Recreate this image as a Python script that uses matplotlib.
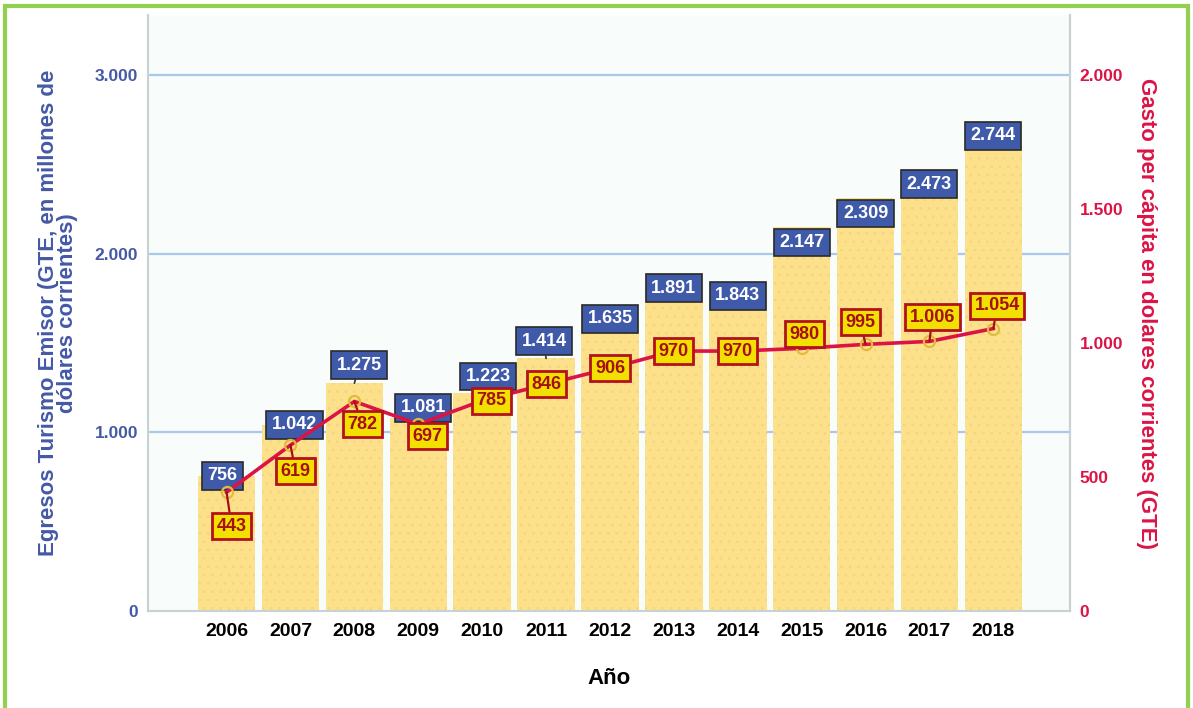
import matplotlib
matplotlib.use("Agg")
import matplotlib.pyplot as plt
from matplotlib.patches import Rectangle
from matplotlib.ticker import FuncFormatter

# ------------------------- Data ------------------------- #
years = [2006, 2007, 2008, 2009, 2010, 2011, 2012, 2013, 2014, 2015, 2016, 2017, 2018]
gte_millones = [756, 1042, 1275, 1081, 1223, 1414, 1635, 1891, 1843, 2147, 2309, 2473, 2744]
gasto_per_capita = [443, 619, 782, 697, 785, 846, 906, 970, 970, 980, 995, 1006, 1054]

# label placement (pixels, relative to the mark) - hand tuned like the original
blue_dx = [-4, 4, 5, 5, 6, -2, 0, 0, 0, 0, 0, 0, 0]
blue_dy = [0, 0, 18, 10, 16, 17, 0, -15, -14, -15, -15, -15, -15]
red_dx = [5, 5, 8, 9, 9, 0, 0, 0, 0, 3, -5, 3, 4]
red_dy = [-34, -26, -23, -12, 0, 0, 0, 0, 0, 14, 22, 24, 23]

plt.rcParams['font.family'] = ['Liberation Sans', 'DejaVu Sans']
plt.rcParams['hatch.linewidth'] = 0.6

blue = '#4459a6'
crimson = '#dc1446'

def miles(v, pos):
    return "{:,.0f}".format(v).replace(",", ".")

fig = plt.figure(figsize=(11.93, 7.08), dpi=100)
ax = fig.add_axes([148/1193, 97/708, 922/1193, 596/708])
ax.set_facecolor('#f8fcfb')

x = list(range(len(years)))
ax.bar(x, gte_millones, width=0.9, color='#fde08a', edgecolor='#f0d488', linewidth=0, hatch='..', zorder=2)

ax.set_xlim(-1.23, 13.2)
ax.set_ylim(0, 3336)
ax.set_yticks([0, 1000, 2000, 3000])
ax.yaxis.set_major_formatter(FuncFormatter(miles))
for gy in [1000, 2000, 3000]:
    ax.axhline(gy, color='#a9c9ec', linewidth=1.6, zorder=1)

ax.set_xticks(x)
ax.set_xticklabels([str(y) for y in years], fontsize=14, fontweight='bold')
ax.tick_params(axis='x', length=0, pad=9)
ax.tick_params(axis='y', length=0, pad=7, labelcolor=blue, labelsize=12.5)
for lbl in ax.get_yticklabels():
    lbl.set_fontweight('bold')

ax.spines['top'].set_visible(False)
for side in ['left', 'bottom', 'right']:
    ax.spines[side].set_color('#c9d2d2')
    ax.spines[side].set_linewidth(1.5)

ax.set_xlabel("Año", fontsize=16, fontweight='bold', labelpad=20)
ax.set_ylabel("Egresos Turismo Emisor (GTE, en millones de\ndólares corrientes)",
              fontsize=16, fontweight='bold', color=blue, labelpad=12, linespacing=0.9)

# right axis for per capita spending
ax2 = ax.twinx()
ax2.set_ylim(0, 3336 * 2 / 3)
ax2.set_yticks([0, 500, 1000, 1500, 2000])
ax2.yaxis.set_major_formatter(FuncFormatter(miles))
ax2.tick_params(axis='y', length=0, pad=7, labelcolor=crimson, labelsize=12.5)
for lbl in ax2.get_yticklabels():
    lbl.set_fontweight('bold')
for side in ['top', 'left', 'bottom']:
    ax2.spines[side].set_visible(False)
ax2.spines['right'].set_color('#c9d2d2')
ax2.spines['right'].set_linewidth(1.5)
ax2.set_ylabel("Gasto per cápita en dolares corrientes (GTE)", fontsize=16, fontweight='bold',
               color=crimson, rotation=270, labelpad=24)

# blue labels for the bars (drawn on ax, below the line)
for i in x:
    arrow = None
    if blue_dy[i] > 0:
        arrow = dict(arrowstyle='-', color='#333333', linewidth=1.2, shrinkA=0, shrinkB=0)
    ax.annotate(miles(gte_millones[i], None), xy=(i, gte_millones[i]),
                xytext=(blue_dx[i] * 0.72, blue_dy[i] * 0.72), textcoords='offset points',
                ha='center', va='center', fontsize=13, fontweight='bold', color='white',
                bbox=dict(boxstyle='square,pad=0.3', facecolor='#3f5aa8', edgecolor='#2a2a2a', linewidth=1.2),
                arrowprops=arrow, zorder=5)

# per capita line
ax2.plot(x, gasto_per_capita, color=crimson, linewidth=2.6, zorder=3)
ax2.plot(x, gasto_per_capita, linestyle='none', marker='o', markersize=8,
         markerfacecolor='none', markeredgecolor='#e3bb3c', markeredgewidth=1.6, zorder=4)

for i in x:
    arrow = None
    if red_dy[i] != 0:
        arrow = dict(arrowstyle='-', color='#a50f15', linewidth=1.6, shrinkA=0, shrinkB=0)
    ax2.annotate(miles(gasto_per_capita[i], None), xy=(i, gasto_per_capita[i]),
                 xytext=(red_dx[i] * 0.72, red_dy[i] * 0.72), textcoords='offset points',
                 ha='center', va='center', fontsize=13, fontweight='bold', color='#a50f15',
                 bbox=dict(boxstyle='square,pad=0.25', facecolor='#f2e000', edgecolor='#b3111e', linewidth=2),
                 arrowprops=arrow, zorder=6)

# green frame around the chart
fig.add_artist(Rectangle((5/1193, -0.05), 1183/1193, 1.05 - 6/708, transform=fig.transFigure,
                         fill=False, edgecolor='#92d050', linewidth=3, clip_on=False))

fig.savefig("out.png", dpi=100)
